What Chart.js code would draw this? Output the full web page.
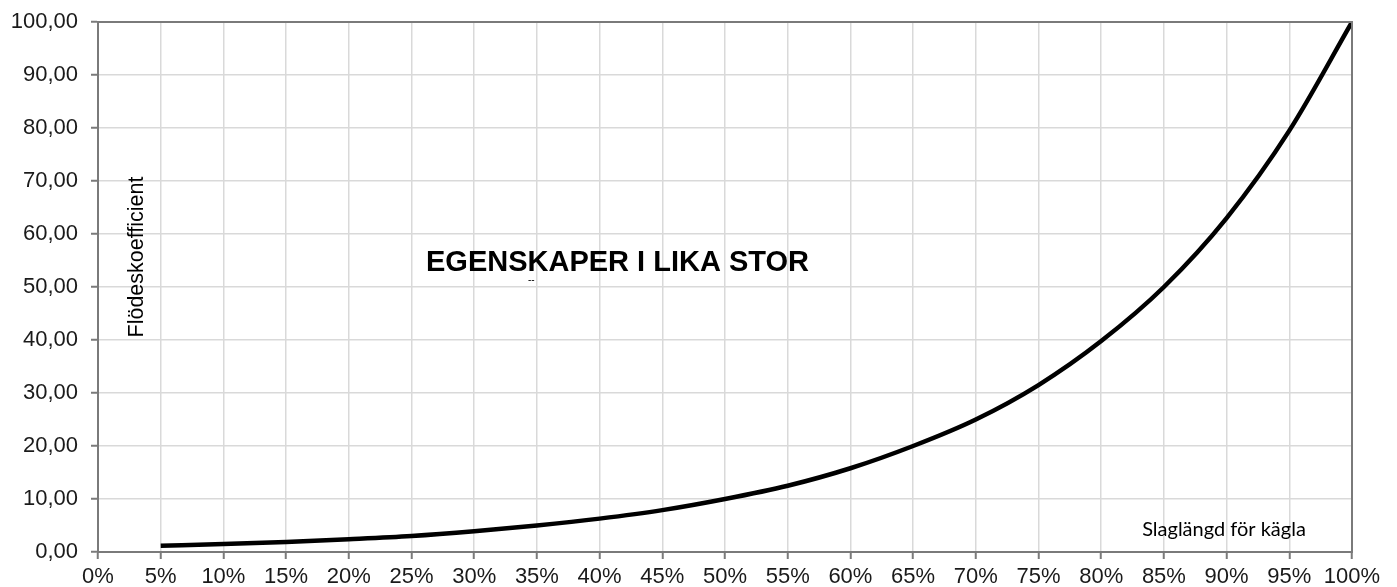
<!DOCTYPE html>
<html lang="sv">
<head>
    <meta charset="UTF-8">
    <title>Egenskaper i lika stor</title>
    <script src="https://cdn.jsdelivr.net/npm/chart.js"></script>
    <style>
        body {
            margin: 0;
            padding: 0;
            background: #ffffff;
        }
        .chart-wrap {
            width: 1397px;
            height: 587px;
        }
    </style>
</head>
<body>
    <div class="chart-wrap">
        <canvas id="valveChart" width="1397" height="587"></canvas>
    </div>

    <script>
        // Slaglängd (%) och flödeskoefficient
        const stroke = [5, 10, 15, 20, 25, 30, 35, 40, 45, 50, 55, 60, 65, 70, 75, 80, 85, 90, 95, 100];
        const flow = [1.2, 1.5, 1.9, 2.4, 3.0, 3.9, 5.0, 6.3, 7.9, 10.0, 12.5, 15.8, 20.0, 25.0, 31.5, 39.8, 50.0, 63.0, 79.5, 100.0];

        const xTickStep = 5;
        const yTickStep = 10;

        const points = stroke.map((s, i) => ({ x: s, y: flow[i] }));

        // Extra texts and full frame around the plot area
        const annotations = {
            id: 'annotations',
            afterDraw(chart) {
                const ctx = chart.ctx;
                const a = chart.chartArea;
                ctx.save();

                ctx.strokeStyle = '#7a7a7a';
                ctx.lineWidth = 2;
                ctx.strokeRect(a.left, a.top, a.right - a.left, a.bottom - a.top);

                ctx.fillStyle = '#000';
                ctx.textBaseline = 'middle';

                ctx.font = 'bold 29px "Liberation Sans", Arial, sans-serif';
                ctx.textAlign = 'left';
                ctx.fillText('EGENSKAPER I LIKA STOR', 426, 263);

                ctx.font = '10px "Liberation Sans", Arial, sans-serif';
                ctx.fillText('--', 528, 280);

                ctx.font = '20px Lato, "Open Sans", sans-serif';
                ctx.textAlign = 'center';
                ctx.fillText('Slaglängd för kägla', 1224, 530);

                ctx.translate(137, 257);
                ctx.rotate(-Math.PI / 2);
                ctx.font = '21.5px "Liberation Sans", Arial, sans-serif';
                ctx.fillText('Flödeskoefficient', 0, 0);

                ctx.restore();
            }
        };

        const ctx = document.getElementById('valveChart').getContext('2d');
        const valveChart = new Chart(ctx, {
            type: 'line',
            data: {
                datasets: [{
                    data: points,
                    borderColor: '#000',
                    borderWidth: 4.5,
                    pointRadius: 0,
                    fill: false,
                    cubicInterpolationMode: 'monotone'
                }]
            },
            options: {
                responsive: false,
                animation: false,
                layout: {
                    padding: { top: 22, right: 45, left: 0, bottom: 0 }
                },
                plugins: {
                    legend: { display: false },
                    tooltip: { enabled: false }
                },
                scales: {
                    x: {
                        type: 'linear',
                        min: 0,
                        max: 100,
                        afterFit(scale) {
                            scale.height = 35;
                            scale.paddingLeft = 0;
                            scale.paddingRight = 0;
                        },
                        grid: {
                            color: '#d9d9d9',
                            lineWidth: 1.5,
                            tickLength: 7,
                            tickColor: '#7a7a7a',
                            tickWidth: 2
                        },
                        border: { color: '#7a7a7a', width: 2 },
                        ticks: {
                            stepSize: xTickStep,
                            color: '#1a1a1a',
                            padding: 5,
                            maxRotation: 0,
                            autoSkip: false,
                            font: { family: '"Liberation Sans", Arial, sans-serif', size: 22 },
                            callback: v => v + '%'
                        }
                    },
                    y: {
                        min: 0,
                        max: 100,
                        afterFit(scale) {
                            scale.width = 98;
                            scale.paddingTop = 0;
                            scale.paddingBottom = 0;
                        },
                        grid: {
                            color: '#d9d9d9',
                            lineWidth: 1.5,
                            tickLength: 7,
                            tickColor: '#7a7a7a',
                            tickWidth: 2
                        },
                        border: { color: '#7a7a7a', width: 2 },
                        ticks: {
                            stepSize: yTickStep,
                            color: '#1a1a1a',
                            padding: 13,
                            font: { family: '"Liberation Sans", Arial, sans-serif', size: 22 },
                            callback: v => v.toFixed(2).replace('.', ',')
                        }
                    }
                }
            },
            plugins: [annotations]
        });
    </script>
</body>
</html>
